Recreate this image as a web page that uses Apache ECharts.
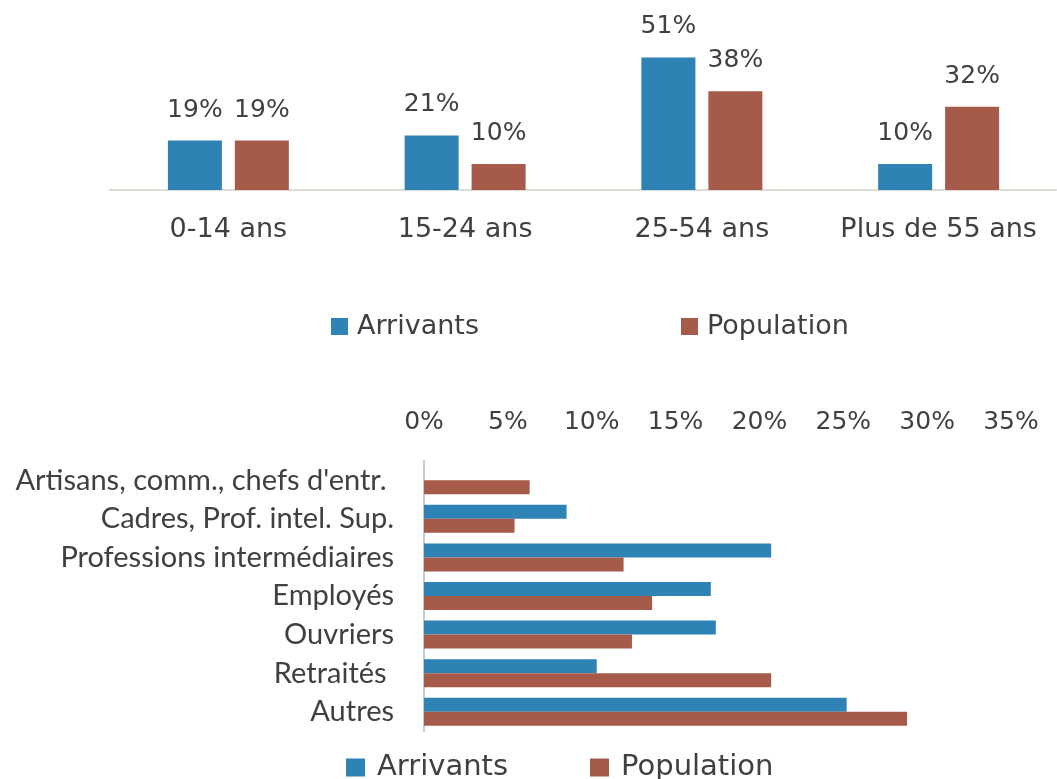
<!DOCTYPE html>
<html>
<head>
<meta charset="utf-8">
<style>
  html, body { margin: 0; padding: 0; background: #fff; }
  #chart { width: 1057px; height: 779px; }
</style>
<script src="https://cdn.jsdelivr.net/npm/echarts@6/dist/echarts.min.js"></script>
</head>
<body>
<div id="chart"></div>
<script>
// tranches d'âge (haut)
const ageGroups = ['0-14 ans', '15-24 ans', '25-54 ans', 'Plus de 55 ans']
const ageArrivants = [19, 21, 51, 10]
const agePopulation = [19, 10, 38, 32]

// catégories socio-professionnelles (bas)
const csp = [
  "Artisans, comm., chefs d'entr. ",
  'Cadres, Prof. intel. Sup.',
  'Professions intermédiaires',
  'Employés',
  'Ouvriers',
  'Retraités ',
  'Autres',
]
const cspArrivants = [0, 8.5, 20.7, 17.1, 17.4, 10.3, 25.2]
const cspPopulation = [6.3, 5.4, 11.9, 13.6, 12.4, 20.7, 28.8]
const cspTicks = [0, 5, 10, 15, 20, 25, 30, 35]

const blue = '#2e82b4'
const brown = '#a65b4a'
const textColor = '#404040'
const font = 'DejaVu Sans'

const chart = echarts.init(document.getElementById('chart'))

chart.setOption({
  backgroundColor: '#fff',
  animation: false,
  color: [blue, brown],
  legend: [
    {
      left: 326,
      top: 308,
      itemWidth: 17,
      itemHeight: 17,
      itemGap: 202,
      icon: 'rect',
      data: ['Arrivants', 'Population'],
      textStyle: { color: textColor, fontFamily: font, fontSize: 27, padding: [0, 0, 0, 4] },
    },
    {
      left: 341,
      top: 748,
      itemWidth: 19,
      itemHeight: 18,
      itemGap: 82,
      icon: 'rect',
      data: ['Arrivants', 'Population'],
      textStyle: { color: textColor, fontFamily: font, fontSize: 29, padding: [0, 0, 0, 7] },
    },
  ],
  grid: [
    { left: 110, top: 34, width: 952, height: 156 },
    { left: 424, top: 461, width: 587, height: 270 },
  ],
  xAxis: [
    {
      gridIndex: 0,
      type: 'category',
      data: ageGroups,
      axisLine: { lineStyle: { color: '#d9d9cf', type: 'dotted', width: 2 } },
      axisTick: { show: false },
      axisLabel: { interval: 0, color: textColor, fontFamily: font, fontSize: 27, margin: 26 },
    },
    {
      gridIndex: 1,
      type: 'value',
      position: 'top',
      min: cspTicks[0],
      max: cspTicks[cspTicks.length - 1],
      interval: 5,
      axisLine: { show: false },
      axisTick: { show: false },
      splitLine: { show: false },
      axisLabel: { color: textColor, fontFamily: font, fontSize: 25, margin: 26, formatter: '{value}%' },
    },
  ],
  yAxis: [
    { gridIndex: 0, type: 'value', min: 0, max: 60, show: false },
    {
      gridIndex: 1,
      type: 'category',
      inverse: true,
      data: csp,
      axisLine: { show: true, lineStyle: { color: '#c5ccd3', width: 2 } },
      axisTick: { show: false },
      axisLabel: { interval: 0, color: textColor, fontFamily: 'Lato', fontSize: 29, margin: 30 },
    },
  ],
  series: [
    {
      name: 'Arrivants',
      type: 'bar',
      xAxisIndex: 0,
      yAxisIndex: 0,
      data: ageArrivants,
      barWidth: 54,
      barGap: '24%',
      itemStyle: { color: blue },
      label: {
        show: true,
        position: 'top',
        distance: 18,
        formatter: '{c}%',
        color: textColor,
        fontFamily: font,
        fontSize: 25,
      },
    },
    {
      name: 'Population',
      type: 'bar',
      xAxisIndex: 0,
      yAxisIndex: 0,
      data: agePopulation,
      barWidth: 54,
      barGap: '24%',
      itemStyle: { color: brown },
      label: {
        show: true,
        position: 'top',
        distance: 18,
        formatter: '{c}%',
        color: textColor,
        fontFamily: font,
        fontSize: 25,
      },
    },
    {
      name: 'Arrivants',
      type: 'bar',
      xAxisIndex: 1,
      yAxisIndex: 1,
      data: cspArrivants,
      barWidth: 14,
      barGap: '0%',
      itemStyle: { color: blue },
    },
    {
      name: 'Population',
      type: 'bar',
      xAxisIndex: 1,
      yAxisIndex: 1,
      data: cspPopulation,
      barWidth: 14,
      barGap: '0%',
      itemStyle: { color: brown },
    },
  ],
})
</script>
</body>
</html>
